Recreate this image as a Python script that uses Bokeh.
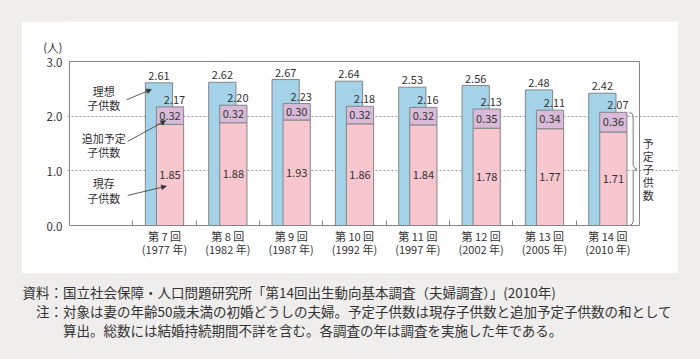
from bokeh.plotting import figure
from bokeh.models import (ColumnDataSource, FixedTicker, Label, Arrow, NormalHead,
                          Range1d, NumeralTickFormatter, Title)
from bokeh.transform import dodge
from bokeh.layouts import column
from bokeh.embed import file_html
from bokeh.resources import INLINE
from bokeh.core.properties import value

# ---- data ----
rounds = ["第 7 回", "第 8 回", "第 9 回", "第 10 回", "第 11 回", "第 12 回", "第 13 回", "第 14 回"]
years = ["1977", "1982", "1987", "1992", "1997", "2002", "2005", "2010"]
ideal = [2.61, 2.62, 2.67, 2.64, 2.53, 2.56, 2.48, 2.42]        # 理想子供数
existing = [1.85, 1.88, 1.93, 1.86, 1.84, 1.78, 1.77, 1.71]     # 現存子供数
additional = [0.32, 0.32, 0.30, 0.32, 0.32, 0.35, 0.34, 0.36]   # 追加予定子供数
planned = [2.17, 2.20, 2.23, 2.18, 2.16, 2.13, 2.11, 2.07]      # 予定子供数
y_ticks = [0, 1, 2, 3]
y_unit_label = "(人)"
notes_text = ("資料：国立社会保障・人口問題研究所「第14回出生動向基本調査（夫婦調査）」(2010年)\n"
              "　注：対象は妻の年齢50歳未満の初婚どうしの夫婦。予定子供数は現存子供数と追加予定子供数の和として\n"
              "　　　算出。総数には結婚持続期間不詳を含む。各調査の年は調査を実施した年である。")

FONT = "Noto Sans CJK JP"
TXT = "#333333"
EDGE = "#858585"
BLUE = "#a4d3e9"
PINK = "#f7c6cf"
PURPLE = "#d9bbd9"
BG = "#efeeec"

xs = list(range(1, len(rounds) + 1))
X0, X1 = -0.5, len(rounds) + 0.5      # plotting box in data units
Y0, Y1 = 0, 3

src = ColumnDataSource(dict(
    x=xs, ideal=ideal, existing=existing, additional=additional, planned=planned,
    ex_mid=[e / 2 for e in existing],
    add_mid=[e + a / 2 for e, a in zip(existing, additional)],
    ideal_lbl=[f"{v:.2f}" for v in ideal],
    ex_lbl=[f"{v:.2f}" for v in existing],
    add_lbl=[f"{v:.2f}" for v in additional],
    plan_lbl=[f"{v:.2f}" for v in planned],
))

LEFT = 46
PXX = 570 / (X1 - X0)     # px per x unit
PXY = 164 / (Y1 - Y0)     # px per y unit
p = figure(width=657, height=252,
           x_range=Range1d(X0 - 2 / PXX, X0 + 609 / PXX),
           y_range=Range1d(0, 204 / PXY),
           output_backend="svg", toolbar_location=None,
           min_border_left=LEFT, min_border_right=0, min_border_top=0, min_border_bottom=48,
           background_fill_color="white", border_fill_color="white",
           outline_line_color=None)
p.margin = (21, 22, 6, 21)

# axes
p.xaxis.ticker = FixedTicker(ticks=xs, minor_ticks=[x - 0.5 for x in xs])
p.xaxis.major_label_overrides = {x: f"{r}\n({y} 年)" for x, r, y in zip(xs, rounds, years)}
p.xaxis.bounds = (X0, X1)
p.xaxis.major_tick_in = 0
p.xaxis.major_tick_out = 0
p.xaxis.minor_tick_in = 5
p.xaxis.minor_tick_out = 0
p.xaxis.minor_tick_line_color = EDGE
p.xaxis.axis_line_color = EDGE
p.xaxis.major_label_text_font = FONT
p.xaxis.major_label_text_font_size = "11px"
p.xaxis.major_label_text_color = TXT
p.xaxis.major_label_text_line_height = 0.85
p.xaxis.major_label_standoff = 2

unit_tick = 3.27
p.yaxis.ticker = FixedTicker(ticks=y_ticks + [unit_tick])
p.yaxis.formatter = NumeralTickFormatter(format="0.0")
p.yaxis.major_label_overrides = {unit_tick: y_unit_label}
p.yaxis.major_tick_in = 0
p.yaxis.major_tick_out = 0
p.yaxis.minor_tick_line_color = None
p.yaxis.axis_line_color = None
p.yaxis.major_label_text_font = FONT
p.yaxis.major_label_text_font_size = "11.5px"
p.yaxis.major_label_text_color = TXT
p.yaxis.major_label_standoff = 5

p.xgrid.visible = False
p.ygrid.ticker = FixedTicker(ticks=[1, 2])
p.ygrid.bounds = (X0, X1)
p.ygrid.grid_line_color = "#9a9a9a"
p.ygrid.grid_line_dash = "2 2"
p.ygrid.grid_line_width = 1

# box around the plotting area
p.segment(x0=[X0, X0, X1], y0=[Y0, Y1, Y0], x1=[X0, X1, X1], y1=[Y1, Y1, Y1],
          line_color=EDGE, line_width=1)

# bars
OFF = 0.087
W = 0.43
p.vbar(x=dodge("x", -OFF, range=p.x_range), top="ideal", width=W, source=src,
       fill_color=BLUE, line_color=EDGE, line_width=1)
p.vbar(x=dodge("x", OFF, range=p.x_range), top="existing", width=W, source=src,
       fill_color=PINK, line_color=EDGE, line_width=1)
p.vbar(x=dodge("x", OFF, range=p.x_range), bottom="existing", top="planned", width=W,
       source=src, fill_color=PURPLE, line_color=EDGE, line_width=1)

# value labels
common = dict(source=src, text_font=value(FONT), text_font_size="11px", text_color=TXT,
              text_align="center")
p.text(x=dodge("x", -OFF, range=p.x_range), y="ideal", text="ideal_lbl",
       text_baseline="bottom", y_offset=-3, **common)
p.text(x=dodge("x", OFF, range=p.x_range), y="planned", text="plan_lbl",
       text_baseline="bottom", y_offset=-3, x_offset=4.5, **common)
p.text(x=dodge("x", OFF, range=p.x_range), y="ex_mid", text="ex_lbl",
       text_baseline="middle", **common)
p.text(x=dodge("x", OFF, range=p.x_range), y="add_mid", text="add_lbl",
       text_baseline="middle", **common)

# legend-like annotations on the left slot
for txt, yy in [("理想\n子供数", 2.33), ("追加予定\n子供数", 1.47), ("現存\n子供数", 0.64)]:
    p.add_layout(Label(x=0.04, y=yy, text=txt, text_align="center", text_baseline="middle",
                       text_font=FONT, text_font_size="11px", text_color=TXT,
                       text_line_height=0.92))

for (x0, y0, x1, y1) in [(0.40, 2.30, 0.795, 2.49), (0.42, 1.54, 1.02, 1.92),
                         (0.42, 0.55, 1.03, 0.72)]:
    p.add_layout(Arrow(end=NormalHead(size=5, fill_color=TXT, line_color=TXT, line_width=0.5),
                       x_start=x0, y_start=y0, x_end=x1, y_end=y1,
                       line_color=TXT, line_width=0.8))

# brace for 予定子供数 on the last group
xl = xs[-1]
top = planned[-1]
mid = planned[-1] / 2
bx0, bx1, bx2 = xl + 0.34, xl + 0.40, xl + 0.46
brace_x = [bx0, bx0 + 0.04, bx1, bx1, bx1 + 0.02, bx2, bx1 + 0.02, bx1, bx1, bx0 + 0.04, bx0]
brace_y = [top, top - 0.02, top - 0.07, mid + 0.06, mid + 0.02, mid, mid - 0.02, mid - 0.06,
           0.07, 0.02, 0.0]
p.line(brace_x, brace_y, line_color="#7a7a7a", line_width=1)

p.add_layout(Label(x=xl + 0.64, y=mid, text="予\n定\n子\n供\n数", text_align="center",
                   text_baseline="middle", text_font=FONT, text_font_size="11px",
                   text_color=TXT, text_line_height=0.8))

# notes below the panel, drawn as a multi-line title (not clipped by the frame)
nf = figure(width=700, height=80, x_range=Range1d(0, 1), y_range=Range1d(0, 1),
            output_backend="svg", toolbar_location=None, min_border=0,
            min_border_left=LEFT, min_border_right=0, min_border_top=0, min_border_bottom=0,
            x_axis_location=None, y_axis_location=None,
            background_fill_color=BG, border_fill_color=BG, outline_line_color=None)
nf.grid.visible = False
nf.add_layout(Title(text=notes_text, align="left", offset=22 - LEFT, standoff=0,
                    text_font=FONT, text_font_size="13.5px", text_font_style="normal",
                    text_color=TXT, text_line_height=0.95), "above")

layout = column(p, nf, styles={"background-color": BG}, spacing=0)
open("out.html", "w").write(file_html(layout, INLINE))
